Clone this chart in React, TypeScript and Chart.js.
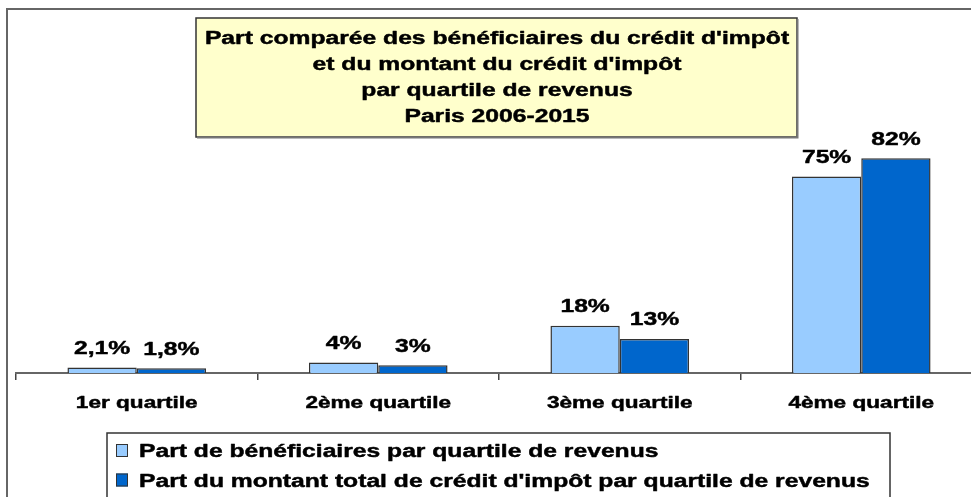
import React, { useEffect, useRef } from "react";
import { Chart, registerables } from "chart.js";

Chart.register(...registerables);

const categories = ["1er quartile", "2ème quartile", "3ème quartile", "4ème quartile"];
const beneficiaires = [2.1, 4, 18, 75];
const montant = [1.8, 3, 13, 82];
const seriesNames = [
  "Part de bénéficiaires par quartile de revenus",
  "Part du montant total de crédit d'impôt par quartile de revenus",
];
const titleLines = [
  "Part comparée des bénéficiaires du crédit d'impôt",
  "et du montant du crédit d'impôt",
  "par quartile de revenus",
  "Paris 2006-2015",
];

const LIGHT = "#99CCFF";
const DARK = "#0066CC";
const FONT = "'Liberation Sans', Arial, sans-serif";
const SX = 1.37;

function stretchText(ctx: CanvasRenderingContext2D, text: string, x: number, y: number, align: CanvasTextAlign, size: number) {
  ctx.save();
  ctx.font = `bold ${size}px ${FONT}`;
  ctx.fillStyle = "#000";
  ctx.strokeStyle = "#000";
  ctx.lineWidth = 0.45;
  ctx.lineJoin = "round";
  ctx.textAlign = align;
  ctx.textBaseline = "alphabetic";
  ctx.translate(x, y);
  ctx.scale(SX, 1);
  ctx.fillText(text, 0, 0);
  ctx.strokeText(text, 0, 0);
  ctx.restore();
}

const decorPlugin = {
  id: "decor",
  beforeDraw(chart: any) {
    const ctx: CanvasRenderingContext2D = chart.ctx;
    ctx.save();
    ctx.fillStyle = "#fff";
    ctx.fillRect(0, 0, chart.width, chart.height);
    ctx.strokeStyle = "#666";
    ctx.lineWidth = 2;
    ctx.strokeRect(7, 9, chart.width + 20, chart.height + 20);
    ctx.restore();
  },
  afterDraw(chart: any) {
    const ctx: CanvasRenderingContext2D = chart.ctx;
    // category labels
    const xs = chart.scales.x;
    categories.forEach((c, i) => {
      stretchText(ctx, c, xs.getPixelForValue(i), 408, "center", 16.5);
    });
    // data labels
    chart.data.datasets.forEach((ds: any, di: number) => {
      const meta = chart.getDatasetMeta(di);
      meta.data.forEach((bar: any, j: number) => {
        const v = ds.data[j];
        const txt = String(v).replace(".", ",") + "%";
        stretchText(ctx, txt, bar.x, bar.y - 13.5, "center", 18);
      });
    });
    // title box
    ctx.save();
    ctx.fillStyle = "#FFFFCC";
    ctx.fillRect(196, 18, 601, 119);
    ctx.strokeStyle = "#333";
    ctx.lineWidth = 1.5;
    ctx.strokeRect(196, 18, 601, 119);
    ctx.strokeStyle = "#777";
    ctx.lineWidth = 2;
    ctx.beginPath();
    ctx.moveTo(197, 137.5);
    ctx.lineTo(797.5, 137.5);
    ctx.lineTo(797.5, 19);
    ctx.stroke();
    ctx.restore();
    titleLines.forEach((t, i) => {
      stretchText(ctx, t, 497, 44 + i * 26, "center", 18);
    });
    // legend box
    ctx.save();
    ctx.fillStyle = "#fff";
    ctx.fillRect(107, 433, 783, 80);
    ctx.strokeStyle = "#333";
    ctx.lineWidth = 1.5;
    ctx.strokeRect(107, 433, 783, 80);
    ctx.restore();
    chart.data.datasets.forEach((ds: any, di: number) => {
      const y0 = 444 + di * 29.5;
      ctx.save();
      ctx.fillStyle = ds.backgroundColor;
      ctx.fillRect(116, y0, 12, 13);
      ctx.strokeStyle = "#333";
      ctx.lineWidth = 1;
      ctx.strokeRect(116.5, y0 + 0.5, 11, 12);
      ctx.restore();
      stretchText(ctx, ds.label, 139, 456.7 + di * 30, "left", 18);
    });
  },
};

export default function App() {
  const ref = useRef<HTMLCanvasElement>(null);
  useEffect(() => {
    const canvas = ref.current!;
    const chart = new Chart(canvas, {
      type: "bar",
      data: {
        labels: categories,
        datasets: [
          {
            label: seriesNames[0],
            data: beneficiaires,
            backgroundColor: LIGHT,
            borderColor: "#333",
            borderWidth: 1.5,
            categoryPercentage: 0.574,
            barPercentage: 1,
          },
          {
            label: seriesNames[1],
            data: montant,
            backgroundColor: DARK,
            borderColor: "#333",
            borderWidth: 1.5,
            categoryPercentage: 0.574,
            barPercentage: 1,
          },
        ],
      },
      options: {
        responsive: false,
        animation: false,
        devicePixelRatio: 1,
        layout: { padding: { left: 16, right: 8, top: 111, bottom: 0 } },
        plugins: {
          legend: { display: false },
          title: { display: false },
          tooltip: { enabled: false },
        },
        scales: {
          x: {
            ticks: { display: false },
            grid: {
              display: true,
              drawOnChartArea: false,
              drawTicks: true,
              tickLength: 7,
              color: "#444",
              lineWidth: 1.5,
            },
            border: { display: true, color: "#666", width: 2 },
            afterFit: (scale: any) => {
              scale.height = 127;
            },
          },
          y: {
            display: false,
            min: 0,
            max: 100,
          },
        },
      },
      plugins: [decorPlugin],
    });
    return () => chart.destroy();
  }, []);
  return (
    <div style={{ position: "fixed", left: 0, top: 0, width: 971, height: 497, overflow: "hidden", background: "#fff" }}>
      <canvas ref={ref} width={990} height={500} style={{ display: "block" }} />
    </div>
  );
}
